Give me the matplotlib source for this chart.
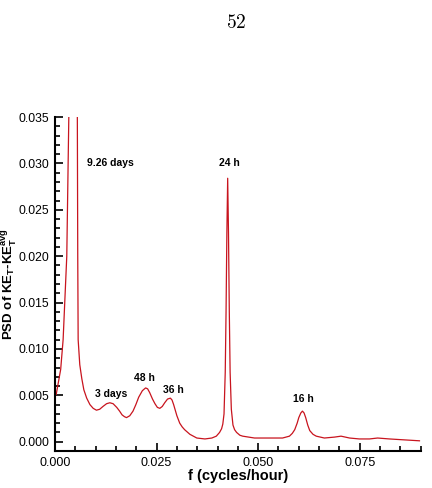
import matplotlib
matplotlib.use("Agg")
import matplotlib.pyplot as plt
from matplotlib.ticker import MultipleLocator, FormatStrFormatter

plt.rcParams['font.family'] = ['Liberation Sans', 'DejaVu Sans']
plt.rcParams['mathtext.fontset'] = 'custom'
plt.rcParams['mathtext.bf'] = 'Liberation Sans:bold'
plt.rcParams['mathtext.rm'] = 'Liberation Sans:bold'

# spectrum (f in cycles/hour)
freq = [0.0003, 0.0014, 0.0020, 0.0029, 0.0034, 0.0039, 0.0044, 0.0050, 0.0055,
        0.0056, 0.0057, 0.0061, 0.0066, 0.0071, 0.0078, 0.0086, 0.0094, 0.0102,
        0.0110, 0.0118, 0.0127, 0.0135, 0.0143, 0.0152, 0.0159, 0.0165, 0.0171,
        0.0176, 0.0184, 0.0192, 0.0199, 0.0206, 0.0215, 0.0223, 0.0228, 0.0233,
        0.0240, 0.0246, 0.0252, 0.0258, 0.0264, 0.0270, 0.0277, 0.0284, 0.0288,
        0.0292, 0.0296, 0.0300, 0.0307, 0.0313, 0.0319, 0.0332, 0.0349, 0.0369,
        0.0386, 0.0397, 0.0405, 0.0410, 0.0413, 0.0416, 0.0419, 0.0421, 0.0423,
        0.0425, 0.0427, 0.0429, 0.0431, 0.0434, 0.0438, 0.0442, 0.0447, 0.0455,
        0.0462, 0.0491, 0.0528, 0.0560, 0.0577, 0.0584, 0.0590, 0.0596, 0.0600,
        0.0605, 0.0609, 0.0613, 0.0617, 0.0622, 0.0627, 0.0635, 0.0643, 0.0663,
        0.0688, 0.0704, 0.0725, 0.0749, 0.0774, 0.0794, 0.0823, 0.0860, 0.0897]
psd = [0.0051, 0.0078, 0.0110, 0.0200, 0.0350, 0.0520, 0.0600, 0.0520, 0.0350,
       0.0200, 0.0110, 0.0083, 0.0068, 0.0056, 0.0047, 0.0040, 0.0036, 0.0034,
       0.0035, 0.0038, 0.0041, 0.0042, 0.0041, 0.0037, 0.0033, 0.0029, 0.0027,
       0.0026, 0.0028, 0.0033, 0.0040, 0.0048, 0.0055, 0.0058, 0.0057, 0.0053,
       0.0046, 0.0041, 0.0037, 0.0036, 0.0038, 0.0042, 0.0046, 0.0047, 0.0045,
       0.0040, 0.0034, 0.0028, 0.0020, 0.0016, 0.0013, 0.0008, 0.0004, 0.0003,
       0.0004, 0.0006, 0.0010, 0.0014, 0.0019, 0.0030, 0.0075, 0.0140, 0.0225,
       0.0284, 0.0225, 0.0140, 0.0075, 0.0035, 0.0018, 0.0013, 0.0010, 0.0007,
       0.0006, 0.0004, 0.0004, 0.0004, 0.0006, 0.0009, 0.0013, 0.0020, 0.0026,
       0.0031, 0.0033, 0.0031, 0.0026, 0.0018, 0.0012, 0.0008, 0.0006, 0.0004,
       0.0005, 0.0006, 0.0004, 0.0003, 0.0003, 0.0004, 0.0003, 0.0002, 0.0001]

labels = ['9.26 days', '24 h', '3 days', '48 h', '36 h', '16 h']
label_f = [0.0136, 0.0430, 0.0138, 0.0220, 0.0291, 0.0611]
label_y = [0.0300, 0.0300, 0.0051, 0.0069, 0.0056, 0.0046]

fig = plt.figure(figsize=(4.32, 4.88), dpi=100)
ax = fig.add_axes([0.1273, 0.0758, 0.8465, 0.6844])

ax.plot(freq, psd, color='#c8141e', lw=0.9)

for t, x, y in zip(labels, label_f, label_y):
    ax.text(x, y, t, fontsize=7.5, fontweight='bold', ha='center', va='center')

ax.set_xlim(0, 0.09)
ax.set_ylim(-0.001, 0.035)
ax.xaxis.set_major_locator(MultipleLocator(0.025))
ax.xaxis.set_minor_locator(MultipleLocator(0.005))
ax.yaxis.set_major_locator(MultipleLocator(0.005))
ax.yaxis.set_minor_locator(MultipleLocator(0.001))
ax.xaxis.set_major_formatter(FormatStrFormatter('%.3f'))
ax.yaxis.set_major_formatter(FormatStrFormatter('%.3f'))

for s in ['top', 'right']:
    ax.spines[s].set_visible(False)
for s in ['left', 'bottom']:
    ax.spines[s].set_linewidth(1.5)

ax.tick_params(which='both', direction='in', width=1.2, labelsize=9)
ax.tick_params(axis='y', labelsize=8.7)
ax.tick_params(which='major', length=6, pad=4)
ax.tick_params(which='minor', length=3.5)

ax.set_xlabel('f (cycles/hour)', fontsize=10.5, fontweight='bold', labelpad=0)
ax.set_ylabel(r'PSD of KE$_\mathbf{T}$-KE$_\mathbf{T}^\mathbf{avg}$',
              fontsize=9.5, fontweight='bold')
ax.yaxis.set_label_coords(-0.098, 0.5)

fig.text(0.5463, 0.953, '$52$', math_fontfamily='cm', fontsize=14,
         ha='center', va='center')

fig.savefig('out.png', dpi=100)
